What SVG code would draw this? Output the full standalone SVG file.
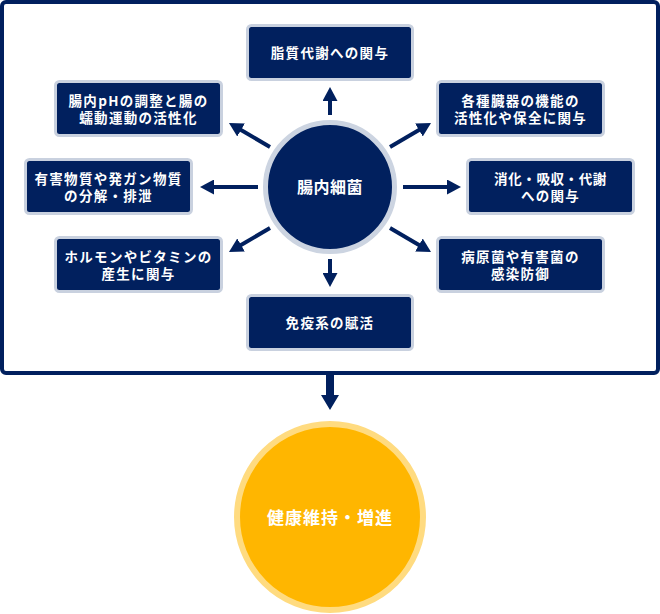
<svg xmlns="http://www.w3.org/2000/svg" width="660" height="614" viewBox="0 0 660 614">
<style>
.box{fill:#01205e;stroke:#c9d1df;stroke-width:3}
.t{font-family:"Noto Sans CJK JP","Noto Sans",sans-serif;font-weight:700;fill:#fff;text-anchor:middle;font-size:13.5px;letter-spacing:1.3px}
.ar{stroke:#01205e;stroke-width:4;fill:none;marker-end:url(#ah)}
</style>
<defs>
<marker id="ah" viewBox="0 0 14 15" refX="4" refY="7.5" markerWidth="14" markerHeight="15" markerUnits="userSpaceOnUse" orient="auto">
<path d="M0,0 L14,7.5 L0,15 z" fill="#01205e"/>
</marker>
</defs>
<rect x="2" y="2" width="656" height="371" rx="4" fill="#fff" stroke="#01205e" stroke-width="4"/>
<g id="connectors">
<line class="ar" x1="330" y1="115" x2="330" y2="97"/>
<line class="ar" x1="258" y1="187" x2="210" y2="187"/>
<line class="ar" x1="403" y1="187" x2="451" y2="187"/>
<line class="ar" x1="330" y1="259" x2="330" y2="277"/>
<line class="ar" x1="270" y1="147" x2="237.6" y2="128"/>
<line class="ar" x1="390" y1="147" x2="422.4" y2="128"/>
<line class="ar" x1="270" y1="228" x2="237.6" y2="247"/>
<line class="ar" x1="390" y1="228" x2="422.4" y2="247"/>
<path d="M326,375 H334 V395 H339 L330,410 L321,395 H326 Z" fill="#01205e"/>
</g>
<g id="center">
<circle cx="330" cy="187" r="64.5" fill="#01205e" stroke="#ccd4e1" stroke-width="5"/>
<text class="t" x="330" y="193" style="font-size:16px;letter-spacing:0.5px">腸内細菌</text>
</g>
<g id="n1">
<rect class="box" x="247.5" y="25.5" width="165" height="54" rx="4"/>
<text class="t" x="330" y="58">脂質代謝への関与</text>
</g>
<g id="n2">
<rect class="box" x="55.5" y="81.5" width="166" height="54" rx="4"/>
<text class="t" x="138.5" y="105.5">腸内pHの調整と腸の</text>
<text class="t" x="138.5" y="123">蠕動運動の活性化</text>
</g>
<g id="n3">
<rect class="box" x="437.5" y="81.5" width="166" height="54" rx="4"/>
<text class="t" x="520.5" y="105.5">各種臓器の機能の</text>
<text class="t" x="520.5" y="123">活性化や保全に関与</text>
</g>
<g id="n4">
<rect class="box" x="25.5" y="159.5" width="166" height="54" rx="4"/>
<text class="t" x="108.5" y="183.5">有害物質や発ガン物質</text>
<text class="t" x="108.5" y="201">の分解・排泄</text>
</g>
<g id="n5">
<rect class="box" x="467.5" y="159.5" width="166" height="54" rx="4"/>
<text class="t" x="550.5" y="183.5" style="letter-spacing:0.6px">消化・吸収・代謝</text>
<text class="t" x="550.5" y="201">への関与</text>
</g>
<g id="n6">
<rect class="box" x="55.5" y="237.5" width="166" height="54" rx="4"/>
<text class="t" x="138.5" y="261.5">ホルモンやビタミンの</text>
<text class="t" x="138.5" y="279">産生に関与</text>
</g>
<g id="n7">
<rect class="box" x="437.5" y="237.5" width="166" height="54" rx="4"/>
<text class="t" x="520.5" y="261.5">病原菌や有害菌の</text>
<text class="t" x="520.5" y="279">感染防御</text>
</g>
<g id="n8">
<rect class="box" x="247.5" y="295.5" width="165" height="54" rx="4"/>
<text class="t" x="330" y="328">免疫系の賦活</text>
</g>
<g id="goal">
<circle cx="330" cy="517" r="93" fill="#ffb600" stroke="#ffdb80" stroke-width="6"/>
<text class="t" x="330" y="524" style="font-size:17px;letter-spacing:1px">健康維持・増進</text>
</g>
</svg>
